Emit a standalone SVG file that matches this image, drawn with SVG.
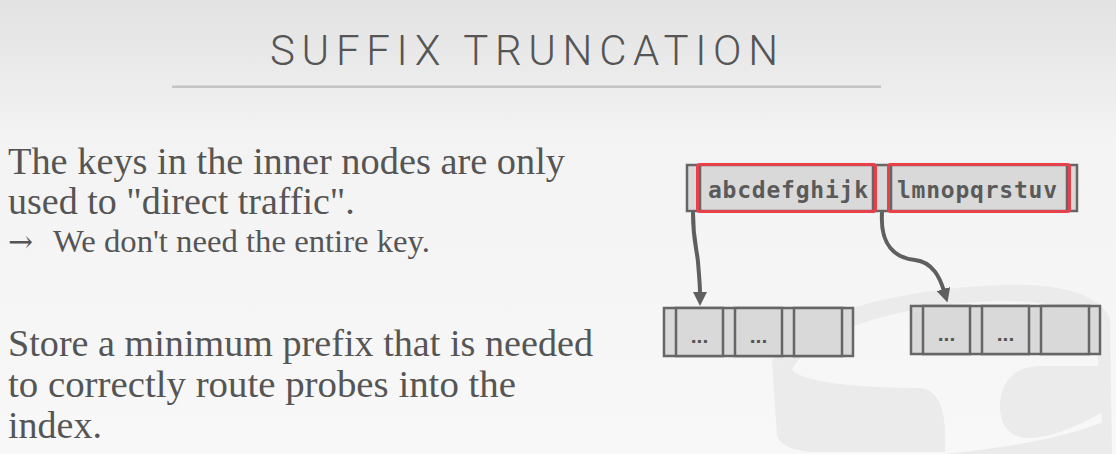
<svg xmlns="http://www.w3.org/2000/svg" width="1116" height="454" viewBox="0 0 1116 454">
  <defs>
    <linearGradient id="bg" x1="0" y1="0" x2="0" y2="1">
      <stop offset="0" stop-color="#e2e2e2"/>
      <stop offset="0.3" stop-color="#f3f3f3"/>
      <stop offset="1" stop-color="#f8f8f8"/>
    </linearGradient>
    <marker id="arrow" markerUnits="userSpaceOnUse" viewBox="0 0 14 14" markerWidth="14" markerHeight="14" refX="2" refY="7" orient="auto">
      <path d="M0,0 L14,7 L0,14 Z" fill="#5f5f5f"/>
    </marker>
    <style>
      .body { font-family: "Liberation Serif", "Times New Roman", serif; fill: #555; }
      .title { font-family: Roboto, "Liberation Sans", Arial, sans-serif; font-weight: 300; font-size: 42px; fill: #555; }
      .key { font-family: "DejaVu Sans Mono", "Liberation Mono", monospace; font-weight: bold; font-size: 23px; fill: #5a5a5a; }
      .dots { font-family: "Liberation Sans", Arial, sans-serif; font-weight: bold; font-size: 21px; fill: #555; text-anchor: middle; }
      .cell { fill: #d9d9d9; stroke: #666; stroke-width: 2.5; }
      .red { fill: none; stroke: #e8404b; stroke-width: 3; }
      .conn { fill: none; stroke: #5f5f5f; stroke-width: 4; stroke-linecap: round; marker-end: url(#arrow); }
      .wm { fill: #ebebeb; }
    </style>
  </defs>

  <rect x="0" y="0" width="1116" height="454" fill="url(#bg)"/>

  <g id="watermark">
    <path class="wm" d="M772,362 C790,318 885,290 1000,285 C1060,283 1097,293 1110,318 L1110,336 C1096,313 1060,301 1000,301 C905,303 812,330 792,370 Z"/>
    <path class="wm" d="M772,362 L792,370 C805,384 870,388 922,388 C940,392 947,412 945,452 L810,452 C790,450 780,444 777,436 Z"/>
    <path class="wm" d="M1000,406 C1000,382 1015,366 1040,366 L1110,366 L1110,408 C1082,424 1052,438 1030,438 C1010,438 1000,426 1000,406 Z"/>
    <path class="wm" d="M1096,330 L1110,318 L1112,454 L1104,454 Z"/>
    <path class="wm" d="M945,454 C1000,448 1060,440 1108,420 L1108,454 Z"/>
  </g>

  <g id="title">
    <text class="title" x="270" y="65" textLength="508" lengthAdjust="spacing">SUFFIX TRUNCATION</text>
    <rect x="172" y="85.5" width="709" height="2.5" fill="#c4c4c4"/>
  </g>

  <g id="text-top">
    <text class="body" x="8" y="174" font-size="38" textLength="557" lengthAdjust="spacingAndGlyphs">The keys in the inner nodes are only</text>
    <text class="body" x="8" y="214" font-size="38">used to "direct traffic".</text>
    <text class="body" x="8" y="252" font-size="32"><tspan font-family="'DejaVu Serif', serif" font-size="30">→</tspan><tspan x="53" textLength="377" lengthAdjust="spacingAndGlyphs">We don't need the entire key.</tspan></text>
  </g>

  <g id="text-bottom">
    <text class="body" x="8" y="356" font-size="38" textLength="585" lengthAdjust="spacingAndGlyphs">Store a minimum prefix that is needed</text>
    <text class="body" x="8" y="397" font-size="38" textLength="508" lengthAdjust="spacingAndGlyphs">to correctly route probes into the</text>
    <text class="body" x="8" y="438" font-size="38">index.</text>
  </g>

  <g id="inner-node">
    <rect class="cell" x="687" y="165" width="390" height="46"/>
    <rect class="cell" x="700" y="165" width="173" height="46"/>
    <rect class="cell" x="891" y="165" width="176" height="46"/>
    <rect class="red" x="697.5" y="164.5" width="178" height="47" rx="2.5"/>
    <rect class="red" x="888.5" y="164.5" width="181" height="47" rx="2.5"/>
    <text class="key" x="708" y="198" textLength="160" lengthAdjust="spacing">abcdefghijk</text>
    <text class="key" x="897" y="198" textLength="160" lengthAdjust="spacing">lmnopqrstuv</text>
  </g>

  <g id="leaf-left">
    <rect class="cell" x="664" y="308" width="189" height="48"/>
    <rect class="cell" x="676" y="308" width="47" height="48"/>
    <rect class="cell" x="735" y="308" width="47" height="48"/>
    <rect class="cell" x="794" y="308" width="48" height="48"/>
    <text class="dots" x="699.5" y="343">...</text>
    <text class="dots" x="758.5" y="343">...</text>
  </g>

  <g id="leaf-right">
    <rect class="cell" x="911" y="306" width="189" height="48"/>
    <rect class="cell" x="923" y="306" width="47" height="48"/>
    <rect class="cell" x="982" y="306" width="47" height="48"/>
    <rect class="cell" x="1041" y="306" width="48" height="48"/>
    <text class="dots" x="946.5" y="341">...</text>
    <text class="dots" x="1005.5" y="341">...</text>
  </g>

  <g id="connectors">
    <path class="conn" d="M693,213 C693,240 697,250 698,262 C699,275 700,284 700,294"/>
    <path class="conn" d="M882,213 C880,245 895,258 915,260 C933,262 940,278 944,291"/>
  </g>
</svg>
